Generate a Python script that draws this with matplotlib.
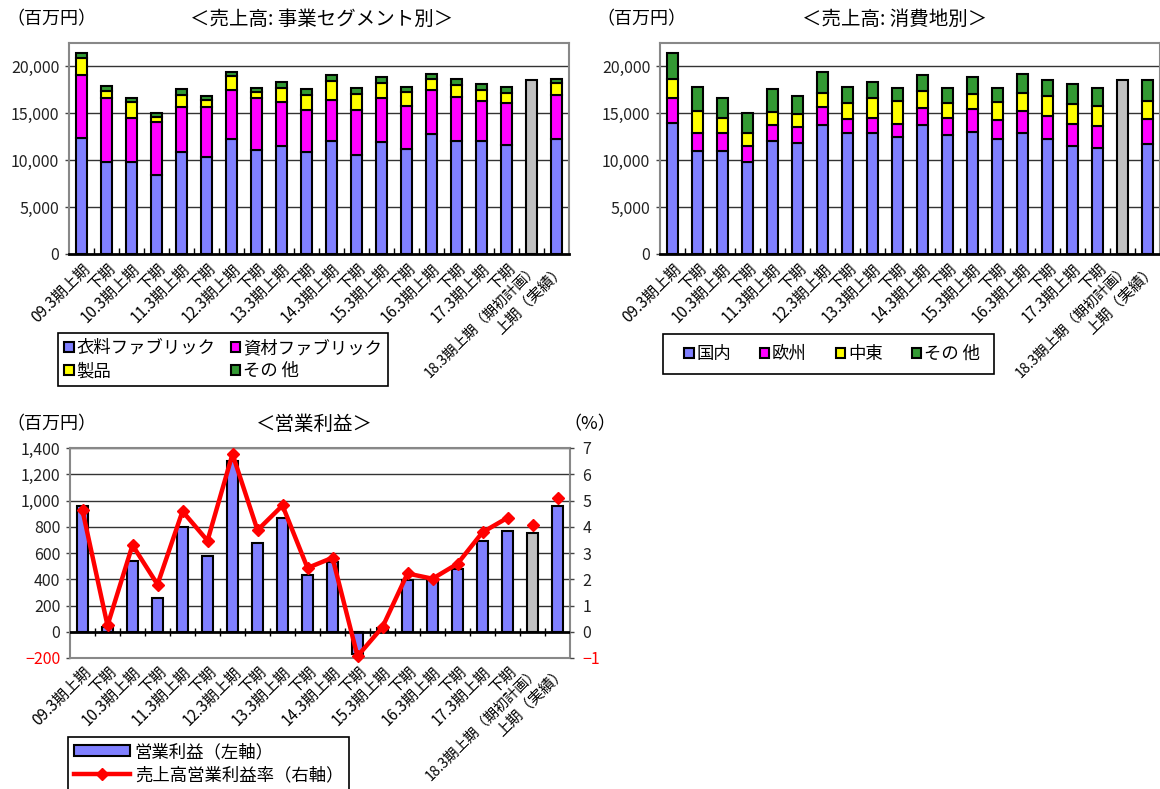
import numpy as np
import matplotlib
matplotlib.use("Agg")
import matplotlib.pyplot as plt
from matplotlib.patches import Patch, Rectangle
from matplotlib.lines import Line2D
from matplotlib.ticker import FuncFormatter, FixedLocator

plt.rcParams['font.family'] = ['Noto Sans CJK JP', 'DejaVu Sans']

nan = np.nan
labels = ['09.3期上期', '下期', '10.3期上期', '下期', '11.3期上期', '下期',
          '12.3期上期', '下期', '13.3期上期', '下期', '14.3期上期', '下期',
          '15.3期上期', '下期', '16.3期上期', '下期', '17.3期上期', '下期',
          '18.3期上期（期初計画）', '上期（実績）']

# 売上高: 事業セグメント別 (百万円)
seg_names = ['衣料ファブリック', '資材ファブリック', '製品', 'その 他']
seg_apparel = [12400, 9800, 9800, 8400, 10850, 10300, 12300, 11100, 11550, 10850,
               12050, 10550, 11900, 11200, 12750, 12000, 12000, 11650, nan, 12300]
seg_material = [6700, 6850, 4650, 5700, 4800, 5400, 5150, 5550, 4650, 4550,
                4350, 4850, 4750, 4550, 4700, 4750, 4350, 4400, nan, 4700]
seg_product = [1750, 780, 1750, 550, 1350, 700, 1500, 650, 1500, 1600,
               2100, 1700, 1600, 1500, 1200, 1300, 1150, 1150, nan, 1250]
seg_other = [550, 450, 450, 350, 600, 500, 450, 450, 600, 600,
             600, 650, 650, 550, 550, 650, 650, 600, nan, 450]

# 売上高: 消費地別 (百万円)
reg_names = ['国内', '欧州', '中東', 'その 他']
reg_domestic = [14000, 11000, 11000, 9850, 12100, 11850, 13750, 12850, 12850, 12500,
                13750, 12700, 13050, 12300, 12850, 12250, 11550, 11350, nan, 11700]
reg_europe = [2650, 1850, 1850, 1700, 1650, 1700, 1950, 1500, 1700, 1350,
              1850, 1750, 2400, 2000, 2450, 2450, 2350, 2300, nan, 2650]
reg_mideast = [2050, 2450, 1600, 1400, 1350, 1400, 1500, 1750, 2100, 2450,
               1750, 1600, 1600, 1950, 1850, 2200, 2050, 2100, nan, 2000]
reg_other = [2700, 2550, 2200, 2050, 2500, 1950, 2200, 1700, 1650, 1350,
             1750, 1700, 1800, 1500, 2050, 1700, 2200, 1950, nan, 2250]

# 期初計画 (index 18)
plan_sales = [nan] * 18 + [18600, nan]

# 営業利益 (百万円) と 売上高営業利益率 (%)
op_profit = [960, 40, 540, 260, 800, 580, 1300, 680, 865, 430,
             530, -170, 30, 395, 395, 475, 690, 770, 750, 955]
op_margin = [4.62, 0.24, 3.30, 1.80, 4.59, 3.47, 6.77, 3.87, 4.81, 2.43,
             2.82, -0.93, 0.18, 2.22, 2.02, 2.59, 3.79, 4.34, 4.06, 5.10]
plan_index = 18

C_BLUE = '#8080FF'
C_MAG = '#FF00FF'
C_YEL = '#FFFF00'
C_GRN = '#339933'
C_GRAY = '#C0C0C0'
FRAME = '#888888'

W, H = 1160, 789
fig = plt.figure(figsize=(W / 100, H / 100), dpi=100)


def fx(px):
    return px / W


def fy(py):
    return 1 - py / H


x = np.arange(len(labels))


def fmt(v, pos=None):
    s = f"{abs(v):,.0f}"
    return ("−" + s) if v < 0 else s


def style_axis(ax, ymin, ymax, step, zero_bottom=True):
    ax.set_xlim(-0.5, len(labels) - 0.5)
    ax.set_ylim(ymin, ymax)
    ticks = np.arange(ymin, ymax + 1, step)
    ticks = ticks[ticks <= 20000] if zero_bottom else ticks
    ax.yaxis.set_major_locator(FixedLocator(ticks))
    ax.yaxis.set_major_formatter(FuncFormatter(fmt))
    for t in ticks:
        if t != 0 and t != ymin:
            ax.axhline(t, color='#333333', lw=1.0, zorder=0.5)
    for s in ['top', 'right', 'left', 'bottom']:
        ax.spines[s].set_color(FRAME)
        ax.spines[s].set_linewidth(1.5)
    ax.set_xticks(x)
    ax.set_xticklabels(labels, rotation=45, ha='right', va='top',
                       rotation_mode='anchor', fontsize=11)
    ax.get_xticklabels()[plan_index].set_fontsize(10.2)
    ax.tick_params(axis='x', length=0, pad=5)
    ax.tick_params(axis='y', labelsize=11.5, length=3, width=1, color='#444444',
                   labelcolor='#222222', pad=4)
    ax.set_xticks(x[:-1] + 0.5, minor=True)


def stacked(ax, series, colors):
    bottom = np.zeros(len(labels))
    mask = ~np.isnan(np.array(series[0], dtype=float))
    for vals, col in zip(series, colors):
        v = np.array(vals, dtype=float)
        ax.bar(x[mask], v[mask], 0.45, bottom=bottom[mask], color=col,
               edgecolor='black', linewidth=1.5, zorder=3)
        bottom[mask] += v[mask]
    p = np.array(plan_sales, dtype=float)
    pm = ~np.isnan(p)
    ax.bar(x[pm], p[pm], 0.45, color=C_GRAY, edgecolor='black', linewidth=1.5, zorder=3)


# --- top left ---
ax1 = fig.add_axes([fx(69), fy(254), 500 / W, 211 / H])
style_axis(ax1, 0, 22500, 5000)
stacked(ax1, [seg_apparel, seg_material, seg_product, seg_other], [C_BLUE, C_MAG, C_YEL, C_GRN])
ax1.spines['bottom'].set_color('black')
ax1.spines['bottom'].set_linewidth(2)
ax1.tick_params(axis='x', which='minor', direction='in', length=4, width=1, color='black')

# --- top right ---
ax2 = fig.add_axes([fx(660), fy(254), 500 / W, 211 / H])
style_axis(ax2, 0, 22500, 5000)
stacked(ax2, [reg_domestic, reg_europe, reg_mideast, reg_other], [C_BLUE, C_MAG, C_YEL, C_GRN])
ax2.spines['bottom'].set_color('black')
ax2.spines['bottom'].set_linewidth(2)
ax2.tick_params(axis='x', which='minor', direction='in', length=4, width=1, color='black')

# --- bottom ---
ax3 = fig.add_axes([fx(70), fy(658), 500 / W, 210 / H])
style_axis(ax3, -200, 1400, 200, zero_bottom=False)
ax3.tick_params(axis='x', which='minor', length=0)
ax3.tick_params(axis='x', pad=4)
prof = np.array(op_profit, dtype=float)
cols = [C_GRAY if i == plan_index else C_BLUE for i in range(len(labels))]
ax3.bar(x, prof, 0.42, color=cols, edgecolor='black', linewidth=1.5, zorder=3)
ax3.axhline(0, color='black', lw=2, zorder=4)
ax3.plot(x[:-1] + 0.5, np.zeros(len(x) - 1), ls='none', marker='|', ms=6,
         mew=1, color='black', zorder=4)

ax3b = ax3.twinx()
ax3b.set_ylim(-1, 7)
ax3b.yaxis.set_major_locator(FixedLocator(np.arange(-1, 8, 1)))
ax3b.yaxis.set_major_formatter(FuncFormatter(fmt))
ax3b.tick_params(axis='y', labelsize=11.5, length=3, width=1, color='#444444',
                 labelcolor='#222222', pad=6)
for s in ['top', 'right', 'left', 'bottom']:
    ax3b.spines[s].set_visible(False)
m = np.array(op_margin, dtype=float)
ax3b.plot(x[:plan_index], m[:plan_index], color='#FF0000', lw=3.2, marker='D', ms=6.5,
          zorder=5, clip_on=False)
ax3b.plot(x[plan_index:], m[plan_index:], color='#FF0000', ls='none', marker='D', ms=6.5,
          zorder=5, clip_on=False)

fig.canvas.draw()
for lab in ax3.get_yticklabels():
    if lab.get_text().startswith('−'):
        lab.set_color('red')
for lab in ax3b.get_yticklabels():
    if lab.get_text().startswith('−'):
        lab.set_color('red')

# --- texts ---
fig.text(fx(6), fy(19), '（百万円）', fontsize=13, ha='left', va='center')
fig.text(fx(322), fy(19), '＜売上高: 事業セグメント別＞', fontsize=14, ha='center', va='center')
fig.text(fx(596), fy(19), '（百万円）', fontsize=13, ha='left', va='center')
fig.text(fx(895), fy(19), '＜売上高: 消費地別＞', fontsize=14, ha='center', va='center')
fig.text(fx(6), fy(424), '（百万円）', fontsize=13, ha='left', va='center')
fig.text(fx(314), fy(424), '＜営業利益＞', fontsize=14, ha='center', va='center')
fig.text(fx(563), fy(424), '（%）', fontsize=13, ha='left', va='center')

# --- legends ---
def sq(c):
    return Patch(facecolor=c, edgecolor='black', linewidth=1.5)


leg_kw = dict(frameon=True, fancybox=False, shadow=False, framealpha=1,
              edgecolor='black', fontsize=12.5, handlelength=0.55, handleheight=0.55,
              handletextpad=0.15, borderaxespad=0)

h1 = [sq(C_BLUE), sq(C_YEL), sq(C_MAG), sq(C_GRN)]
l1 = [seg_names[0], seg_names[2], seg_names[1], seg_names[3]]
lg1 = fig.legend(h1, l1, loc='upper left', ncol=2, mode='expand',
                 bbox_to_anchor=(fx(58), fy(333), 330 / W, 0.0001),
                 labelspacing=0.3, borderpad=0.35, columnspacing=1.0, **leg_kw)
lg1.get_frame().set_linewidth(1.2)

# top-right legend: frame drawn separately to get wider side padding
fig.patches.append(Rectangle((fx(663), fy(374)), 331 / W, 40 / H, transform=fig.transFigure,
                             facecolor='white', edgecolor='black', lw=1.2, zorder=1))
h2 = [sq(C_BLUE), sq(C_MAG), sq(C_YEL), sq(C_GRN)]
kw2 = dict(leg_kw)
kw2['frameon'] = False
lg2 = fig.legend(h2, reg_names, loc='center left', ncol=4, mode='expand',
                 bbox_to_anchor=(fx(684), fy(354), 296 / W, 0.0001),
                 borderpad=0.0, columnspacing=1.0, **kw2)
lg2.set_zorder(2)

h3 = [Patch(facecolor=C_BLUE, edgecolor='black', linewidth=1.5),
      Line2D([0], [0], color='#FF0000', lw=3.2, marker='D', ms=6.5)]
l3 = ['営業利益（左軸）', '売上高営業利益率（右軸）']
lg3 = fig.legend(h3, l3, loc='upper left', frameon=True, fancybox=False, framealpha=1,
                 edgecolor='black', fontsize=12.5, handlelength=3.2, handleheight=0.6,
                 handletextpad=0.3, borderaxespad=0, borderpad=0.35, labelspacing=0.3,
                 numpoints=1, bbox_to_anchor=(fx(68), fy(737)))
lg3.get_frame().set_linewidth(1.2)

fig.savefig('out.png', dpi=100)
